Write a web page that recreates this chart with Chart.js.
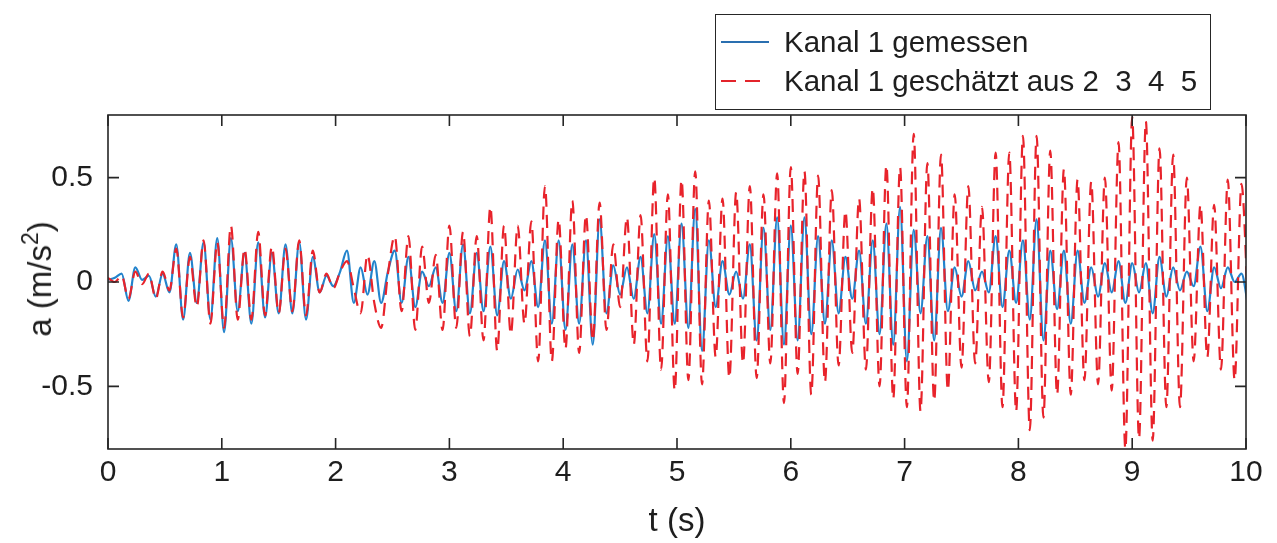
<!DOCTYPE html>
<html>
<head>
<meta charset="utf-8">
<script src="https://cdn.jsdelivr.net/npm/chart.js@4.4.0/dist/chart.umd.min.js"></script>
<style>
    html, body { margin: 0; padding: 0; background: #fff; }
    #wrap { position: relative; width: 1277px; height: 543px; font-family: "Liberation Sans", Arial, sans-serif; color: #1e1e1e; }
    #chart { position: absolute; left: 0; top: 0; }
    #ylabel { position: absolute; left: 40px; top: 279px; font-size: 33px; white-space: nowrap; transform: translate(-50%, -50%) rotate(-90deg); }
    #ylabel sup { font-size: 23px; vertical-align: 13px; line-height: 0; }
    #legend { position: absolute; left: 715px; top: 14px; width: 494px; height: 94px; border: 1.5px solid #262626; background: #fff; }
    #legend .row { position: absolute; left: 0; height: 40px; line-height: 40px; font-size: 29.5px; white-space: pre; }
    #legend .row span { position: absolute; left: 68px; top: 0; }
    #legend svg { position: absolute; left: 5px; top: 0; }
</style>
</head>
<body>
<div id="wrap">
    <canvas id="chart" width="1277" height="543"></canvas>
    <div id="ylabel">a (m/s<sup>2</sup>)</div>
    <div id="legend">
        <div class="row" style="top:7px">
            <svg width="50" height="40"><line x1="0" y1="20" x2="48" y2="20" stroke="#2a6fb0" stroke-width="1.8"/></svg>
            <span>Kanal 1 gemessen</span>
        </div>
        <div class="row" style="top:46px">
            <svg width="50" height="40"><line x1="0" y1="20" x2="48" y2="20" stroke="#e3242b" stroke-width="1.8" stroke-dasharray="15 9"/></svg>
            <span>Kanal 1 geschätzt aus 2  3  4  5</span>
        </div>
    </div>
</div>
<script>
// sample step of the traces (s)
const dt = 0.06;

const xTicks = [0, 1, 2, 3, 4, 5, 6, 7, 8, 9, 10];
const yTicks = [-0.5, 0, 0.5];

// Kanal 1 gemessen (m/s^2), one value per dt
const gemessen = [
    0.01, 0.02, 0.04, -0.09, 0.07, 0.01, 0.03, -0.07, 0.04, -0.05,
    0.18, -0.18, 0.14, -0.10, 0.19, -0.18, 0.21, -0.24, 0.21, -0.14,
    0.14, -0.20, 0.19, -0.17, 0.14, -0.15, 0.18, -0.15, 0.19, -0.18,
    0.12, -0.05, 0.03, -0.02, 0.05, 0.15, -0.10, 0.07, -0.06, 0.10,
    -0.10, 0.05, 0.15, -0.10, 0.12, -0.12, 0.05, -0.02, 0.07, -0.10,
    0.14, -0.14, 0.18, -0.15, 0.14, -0.14, 0.17, -0.16, 0.10, -0.08,
    0.06, -0.04, 0.10, -0.12, 0.20, -0.20, 0.20, -0.23, 0.18, -0.20,
    0.20, -0.30, 0.30, -0.15, 0.08, -0.06, 0.07, -0.08, 0.12, -0.15,
    0.23, -0.20, 0.22, -0.20, 0.28, -0.22, 0.35, -0.33, 0.20, -0.12,
    0.10, -0.06, 0.05, -0.08, 0.18, -0.28, 0.26, -0.23, 0.31, -0.30,
    0.27, -0.28, 0.31, -0.25, 0.22, -0.20, 0.20, -0.15, 0.12, -0.08,
    0.15, -0.20, 0.20, -0.25, 0.28, -0.30, 0.36, -0.38, 0.25, -0.15,
    0.22, -0.28, 0.26, -0.14, 0.07, -0.07, 0.10, -0.04, 0.05, -0.05,
    0.22, -0.12, 0.15, -0.10, 0.20, -0.18, 0.30, -0.28, 0.15, -0.13,
    0.15, -0.20, 0.15, -0.10, 0.07, -0.07, 0.09, -0.05, 0.10, -0.10,
    0.09, -0.05, 0.09, -0.15, 0.12, -0.07, 0.07, -0.04, 0.05, -0.02,
    0.17, -0.14, 0.07, -0.03, 0.07, 0.00, 0.04, -0.12
];

// Kanal 1 geschaetzt aus 2 3 4 5 (m/s^2)
const geschaetzt = [
    0.02, 0.00, 0.03, -0.08, 0.05, -0.01, 0.04, -0.08, 0.05, -0.04,
    0.16, -0.17, 0.12, -0.12, 0.20, -0.20, 0.19, -0.22, 0.27, -0.18,
    0.16, -0.18, 0.24, -0.16, 0.17, -0.15, 0.16, -0.14, 0.20, -0.16,
    0.15, -0.05, 0.04, -0.03, 0.05, 0.10, -0.03, -0.15, 0.13, -0.10,
    -0.22, 0.04, 0.22, -0.14, 0.22, -0.23, 0.17, -0.10, 0.13, -0.23,
    0.27, -0.22, 0.24, -0.26, 0.22, -0.28, 0.36, -0.33, 0.27, -0.25,
    0.27, -0.20, 0.29, -0.38, 0.46, -0.38, 0.30, -0.32, 0.39, -0.34,
    0.32, -0.28, 0.38, -0.23, 0.18, -0.12, 0.31, -0.30, 0.32, -0.38,
    0.50, -0.42, 0.42, -0.52, 0.49, -0.47, 0.53, -0.49, 0.39, -0.36,
    0.40, -0.46, 0.43, -0.39, 0.46, -0.46, 0.42, -0.39, 0.52, -0.58,
    0.55, -0.44, 0.53, -0.54, 0.51, -0.48, 0.44, -0.40, 0.34, -0.34,
    0.40, -0.42, 0.45, -0.50, 0.56, -0.56, 0.55, -0.60, 0.71, -0.62,
    0.57, -0.57, 0.61, -0.52, 0.42, -0.41, 0.46, -0.39, 0.36, -0.48,
    0.62, -0.60, 0.62, -0.62, 0.70, -0.71, 0.70, -0.65, 0.63, -0.54,
    0.54, -0.54, 0.49, -0.47, 0.48, -0.49, 0.50, -0.52, 0.67, -0.80,
    0.79, -0.75, 0.77, -0.76, 0.64, -0.60, 0.61, -0.60, 0.50, -0.38,
    0.37, -0.36, 0.37, -0.42, 0.49, -0.47, 0.47, -0.15
];

const toPoints = arr => arr.map((v, i) => ({ x: +(i * dt).toFixed(2), y: v }));

const FONT = '"Liberation Sans", Arial, sans-serif';
const INK = '#1e1e1e';

// axes box with inward ticks on all four sides (MATLAB style)
const boxPlugin = {
    id: 'box',
    afterDatasetsDraw(chart) {
        const { ctx, chartArea: a, scales: { x, y } } = chart;
        ctx.save();
        ctx.strokeStyle = '#262626';
        ctx.lineWidth = 1.6;
        ctx.strokeRect(a.left, a.top, a.right - a.left, a.bottom - a.top);
        ctx.beginPath();
        xTicks.forEach(v => {
            const px = x.getPixelForValue(v);
            ctx.moveTo(px, a.bottom); ctx.lineTo(px, a.bottom - 11);
            ctx.moveTo(px, a.top); ctx.lineTo(px, a.top + 11);
        });
        yTicks.forEach(v => {
            const py = y.getPixelForValue(v);
            ctx.moveTo(a.left, py); ctx.lineTo(a.left + 11, py);
            ctx.moveTo(a.right, py); ctx.lineTo(a.right - 11, py);
        });
        ctx.stroke();
        ctx.restore();
    }
};

new Chart(document.getElementById('chart'), {
    type: 'line',
    data: {
        datasets: [
            {
                label: 'Kanal 1 gemessen',
                data: toPoints(gemessen),
                borderColor: '#2283cc',
                borderWidth: 2.2,
                pointRadius: 0,
                cubicInterpolationMode: 'monotone',
                order: 2
            },
            {
                label: 'Kanal 1 geschätzt aus 2  3  4  5',
                data: toPoints(geschaetzt),
                borderColor: '#e8232b',
                borderWidth: 2.2,
                borderDash: [13, 8],
                pointRadius: 0,
                cubicInterpolationMode: 'monotone',
                order: 1
            }
        ]
    },
    options: {
        responsive: false,
        animation: false,
        layout: { padding: { left: 0, right: 31, top: 115, bottom: 0 } },
        plugins: { legend: { display: false }, tooltip: { enabled: false } },
        scales: {
            x: {
                type: 'linear', min: 0, max: 10,
                afterBuildTicks: s => { s.ticks = xTicks.map(v => ({ value: v })); },
                afterFit: s => { s.height = 94; },
                grid: { display: false, drawTicks: false },
                border: { display: false },
                ticks: { font: { family: FONT, size: 30 }, color: INK, padding: 6, maxRotation: 0, autoSkip: false },
                title: { display: true, text: 't (s)', font: { family: FONT, size: 33 }, color: INK, padding: { top: 0, bottom: 1 } }
            },
            y: {
                type: 'linear', min: -0.8, max: 0.8,
                afterBuildTicks: s => { s.ticks = yTicks.map(v => ({ value: v })); },
                afterFit: s => { s.width = 108; },
                grid: { display: false, drawTicks: false },
                border: { display: false },
                ticks: { font: { family: FONT, size: 30 }, color: INK, padding: 15, callback: v => String(v) }
            }
        }
    },
    plugins: [boxPlugin]
});
</script>
</body>
</html>
